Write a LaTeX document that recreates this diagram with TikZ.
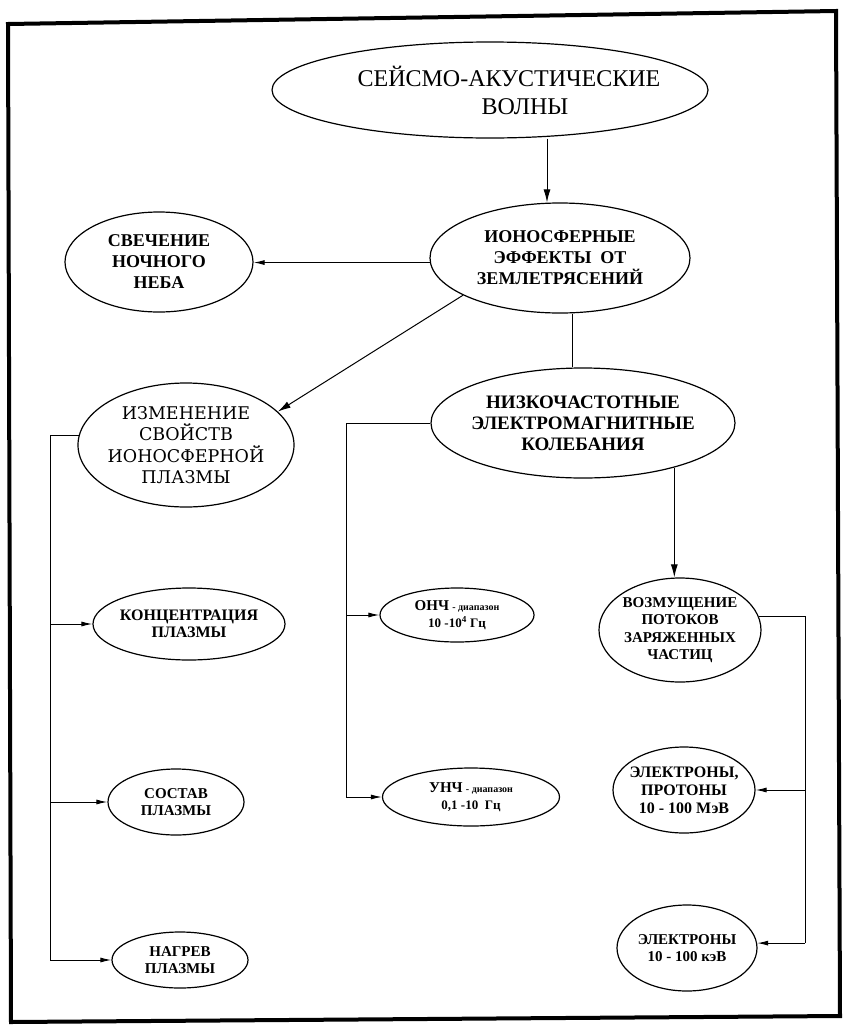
\documentclass[tikz,border=0pt]{standalone}
\usepackage{fontspec}
\setmainfont{Liberation Serif}
\newfontfamily\wideserif{DejaVu Serif}
\usetikzlibrary{arrows.meta,shapes.geometric}
\tikzset{
  oval/.style={ellipse, draw, line width=1.2pt, inner sep=-12pt, align=center},
  bsz/.style={font=\bfseries\fontsize{15}{17.5}\selectfont},
  msz/.style={font=\bfseries\fontsize{18}{21}\selectfont},
  conn/.style={line width=1pt},
  arr/.style={line width=1pt, -{Latex[length=11pt,width=5pt]}},
  arrbig/.style={line width=1pt, -{Latex[length=13pt,width=7pt]}},
}
\begin{document}
\begin{tikzpicture}[x=1pt,y=-1pt]
\useasboundingbox (0,0) rectangle (849,1031);
\draw[line width=4pt, line join=miter] (8,24) -- (836,11) -- (840,1016) -- (11,1022) -- cycle;

\node[oval, inner sep=-22pt, minimum width=436pt, minimum height=96pt, font=\fontsize{24}{28}\selectfont] (seis) at (490,90) {\hspace*{38pt}СЕЙСМО-АКУСТИЧЕСКИЕ\\\hspace*{70pt}ВОЛНЫ};
\node[oval, msz, minimum width=260pt, minimum height=110pt] (ion) at (560,258) {ИОНОСФЕРНЫЕ\\ЭФФЕКТЫ\ \ ОТ\\ЗЕМЛЕТРЯСЕНИЙ};
\node[oval, msz, minimum width=188pt, minimum height=100pt] (svech) at (159,262) {СВЕЧЕНИЕ\\НОЧНОГО\\НЕБА};
\node[oval, minimum width=216pt, minimum height=124pt, font=\wideserif\fontsize{17.5}{21.5}\selectfont] (izm) at (186,445) {ИЗМЕНЕНИЕ\\СВОЙСТВ\\ИОНОСФЕРНОЙ\\ПЛАЗМЫ};
\node[oval, font=\bfseries\fontsize{19}{21}\selectfont, minimum width=304pt, minimum height=110pt] (nizko) at (583,423) {НИЗКОЧАСТОТНЫЕ\\ЭЛЕКТРОМАГНИТНЫЕ\\КОЛЕБАНИЯ};
\node[oval, font=\bfseries\fontsize{16}{17.5}\selectfont, minimum width=192pt, minimum height=72pt] (konc) at (189,624) {КОНЦЕНТРАЦИЯ\\ПЛАЗМЫ};
\node[oval, bsz, minimum width=136pt, minimum height=66pt] (sostav) at (176,802) {СОСТАВ\\ПЛАЗМЫ};
\node[oval, bsz, minimum width=136pt, minimum height=56pt] (nagr) at (180,960) {НАГРЕВ\\ПЛАЗМЫ};
\node[oval, font=\bfseries\fontsize{13}{17}\selectfont, minimum width=154pt, minimum height=54pt] (onch) at (457,615) {{\fontsize{15}{17}\selectfont ОНЧ} {\fontsize{10}{17}\selectfont - диапазон}\\10 -10\textsuperscript{4} Гц};
\node[oval, font=\bfseries\fontsize{13}{17}\selectfont, minimum width=177pt, minimum height=58pt] (unch) at (471,797) {{\fontsize{15}{17}\selectfont УНЧ} {\fontsize{10}{17}\selectfont - диапазон}\\0,1 -10\ \ Гц};
\node[oval, bsz, minimum width=162pt, minimum height=104pt] (vozm) at (680,630) {ВОЗМУЩЕНИЕ\\ПОТОКОВ\\ЗАРЯЖЕННЫХ\\ЧАСТИЦ};
\node[oval, font=\bfseries\fontsize{16}{18}\selectfont, minimum width=142pt, minimum height=86pt] (elpr) at (684,790) {ЭЛЕКТРОНЫ,\\ПРОТОНЫ\\10 - 100 МэВ};
\node[oval, bsz, minimum width=140pt, minimum height=86pt] (el) at (687,948) {ЭЛЕКТРОНЫ\\10 - 100 кэВ};

% helper coordinates for vertical runs
\coordinate (vTop) at (547,0);
\coordinate (vIon) at (572,0);
\coordinate (bL) at (50,0);
\coordinate (bM) at (346,0);
\coordinate (bR) at (805,0);

\draw[arrbig] (seis.south -| vTop) -- (ion.north -| vTop);
\draw[arr] (ion.182) -- (ion.182 -| svech.east);
\draw[arrbig] (ion.201) -- (izm.20);
\draw[conn] (ion.south -| vIon) -- (nizko.north -| vIon);

\draw[conn] (izm.175) -| (bL |- nagr.west);
\draw[arr] (bL |- konc.west) -- (konc.west);
\draw[arr] (bL |- sostav.west) -- (sostav.west);
\draw[arr] (bL |- nagr.west) -- (nagr.west);

\draw[conn] (nizko.west) -| (bM |- unch.west);
\draw[arr] (bM |- onch.west) -- (onch.west);
\draw[arr] (bM |- unch.west) -- (unch.west);

\draw[arrbig] (nizko.-26) -- (nizko.-26 |- vozm.north);

\draw[conn] (vozm.10) -| (bR |- el.4);
\draw[arr] (bR |- elpr.east) -- (elpr.east);
\draw[arr] (bR |- el.4) -- (el.4);
\end{tikzpicture}
\end{document}
